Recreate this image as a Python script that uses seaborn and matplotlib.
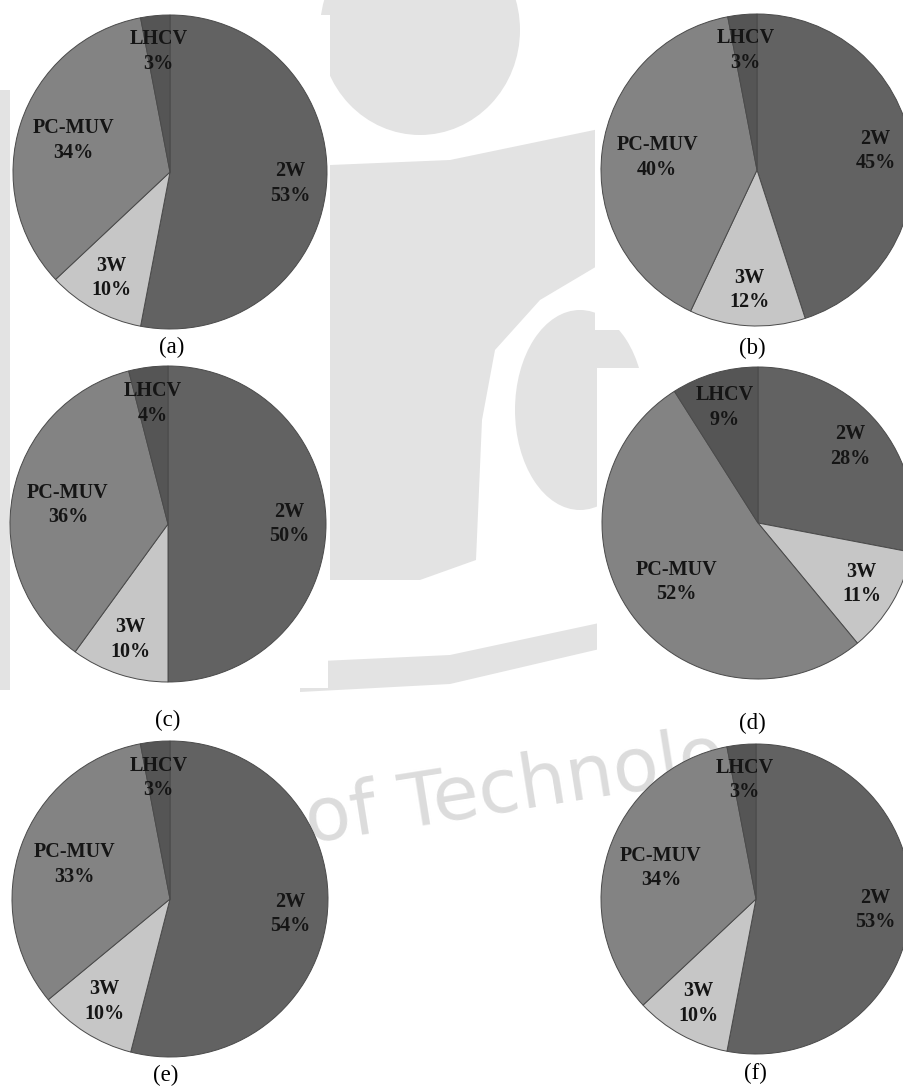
import numpy as np
import matplotlib
matplotlib.use("Agg")
import matplotlib.pyplot as plt
import matplotlib.patches as mpatches
import seaborn as sns

# vehicle categories, in the order the slices run clockwise from 12 o'clock
categories = ["2W", "3W", "PC-MUV", "LHCV"]

# percentage shares for each sub-figure
share_a = [53, 10, 34, 3]
share_b = [45, 12, 40, 3]
share_c = [50, 10, 36, 4]
share_d = [28, 11, 52, 9]
share_e = [54, 10, 33, 3]
share_f = [53, 10, 34, 3]

panel_names = ["(a)", "(b)", "(c)", "(d)", "(e)", "(f)"]

sns.set_style("white")
plt.rcParams["font.family"] = ["Liberation Serif", "DejaVu Serif"]

slice_colors = sns.color_palette(["#626262", "#c6c6c6", "#838383", "#555555"])

W, H = 904, 1090
fig = plt.figure(figsize=(W / 100, H / 100), dpi=100)

# background layer in pixel coordinates (faint watermark + white panels)
bg = fig.add_axes([0, 0, 1, 1], zorder=0)
bg.set_xlim(0, W)
bg.set_ylim(H, 0)
bg.axis("off")
wm = "#e3e3e3"
bg.add_patch(mpatches.Ellipse((420, 30), 200, 210, color=wm, lw=0))
bg.add_patch(mpatches.Polygon([(330, 165), (450, 160), (604, 128), (604, 262), (540, 300),
                               (495, 350), (482, 420), (476, 560), (420, 580), (330, 580)],
                              closed=True, color=wm, lw=0))
bg.add_patch(mpatches.Ellipse((580, 410), 130, 200, color=wm, lw=0))
bg.add_patch(mpatches.Polygon([(300, 662), (450, 655), (604, 622), (604, 648), (450, 684), (300, 692)],
                              closed=True, color=wm, lw=0))
bg.add_patch(mpatches.Rectangle((0, 90), 10, 600, color=wm, lw=0))
bg.text(515, 790, "of Technolo", fontsize=54, color="#dcdcdc", ha="center", va="center",
        rotation=9, family=["DejaVu Sans"])
# white boxes behind the top four pies
for (x0, y0, x1, y1) in [(10, 15, 330, 332), (595, 13, 904, 330),
                         (10, 366, 328, 688), (597, 368, 904, 660)]:
    bg.add_patch(mpatches.Rectangle((x0, y0), x1 - x0, y1 - y0, color="white", lw=0))

shares = [share_a, share_b, share_c, share_d, share_e, share_f]
# pie centre and radius in pixels, caption centre
layout = [(170, 172, 157, 172, 347), (757, 170, 156, 752, 348),
          (168, 524, 158, 168, 720), (758, 523, 156, 752, 723),
          (170, 899, 158, 166, 1075), (756, 899, 155, 755, 1073)]

for vals, (cx, cy, r, tx, ty), name in zip(shares, layout, panel_names):
    ax = fig.add_axes([(cx - r) / W, 1 - (cy + r) / H, 2 * r / W, 2 * r / H], zorder=2)
    ax.patch.set_visible(False)
    wedges, _ = ax.pie(vals, colors=slice_colors, startangle=90, counterclock=False,
                       radius=1, wedgeprops=dict(edgecolor="#4a4a4a", linewidth=0.7))
    ax.set_xlim(-1, 1)
    ax.set_ylim(-1, 1)
    ax.set_aspect("equal")
    for w, cat, v in zip(wedges, categories, vals):
        ang = np.deg2rad((w.theta1 + w.theta2) / 2)
        dist = 0.645 if cat == "PC-MUV" else 0.77
        ax.text(dist * np.cos(ang), dist * np.sin(ang), f"{cat}\n{v}%",
                ha="center", va="center", fontsize=14.5, fontweight="bold",
                color="#151515", linespacing=1.3)
    bg.text(tx, ty, name, fontsize=16.5, ha="center", va="center", color="black")

fig.savefig("out.png", dpi=100)
